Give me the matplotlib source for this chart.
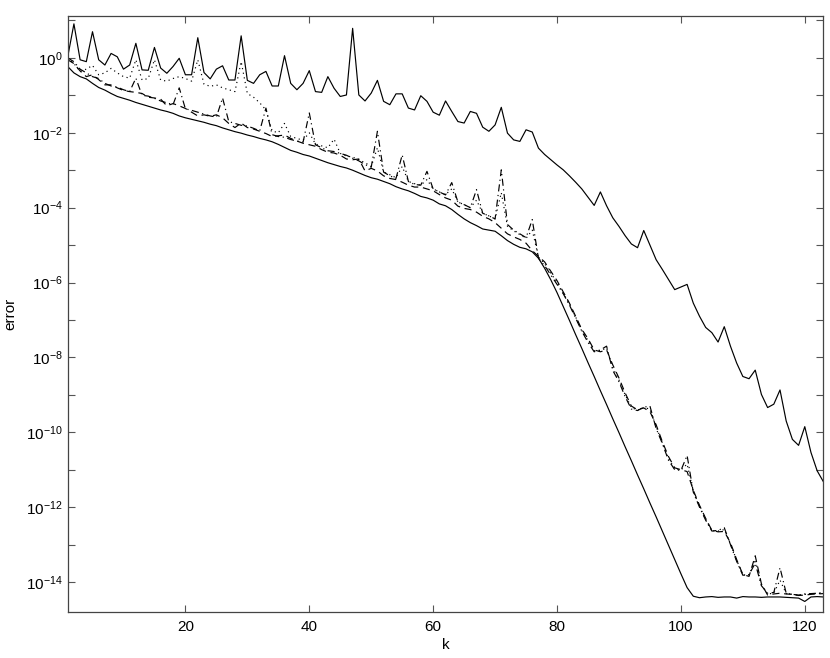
import numpy as np
import matplotlib
matplotlib.use('Agg')
import matplotlib.pyplot as plt
from matplotlib.ticker import FixedLocator, FuncFormatter

plt.rcParams['font.family'] = ['Liberation Sans', 'DejaVu Sans']
plt.rcParams['mathtext.fontset'] = 'custom'
plt.rcParams['mathtext.rm'] = 'Liberation Sans'
plt.rcParams['mathtext.it'] = 'Liberation Sans'

k = np.arange(1, 124)

# error values, stored as log10(error)
top_solid = [0.03, 0.91, -0.05, -0.10, 0.70, -0.05, -0.19, 0.12, 0.03, -0.30,
             -0.19, 0.39, -0.32, -0.33, 0.28, -0.27, -0.41, -0.23, -0.01, -0.45,
             -0.45, 0.54, -0.39, -0.56, -0.30, -0.21, -0.59, -0.59, 0.59, -0.60,
             -0.68, -0.45, -0.36, -0.75, -0.75, 0.06, -0.68, -0.85, -0.68, -0.34,
             -0.90, -0.92, -0.50, -0.81, -1.03, -0.99, 0.79, -0.99, -1.15, -0.94,
             -0.60, -1.16, -1.25, -0.96, -0.96, -1.34, -1.39, -1.01, -1.16, -1.45,
             -1.53, -1.15, -1.43, -1.70, -1.74, -1.43, -1.48, -1.85, -1.96, -1.79,
             -1.32, -2.01, -2.19, -2.23, -1.92, -1.98, -2.41, -2.58, -2.72, -2.86,
             -2.99, -3.15, -3.32, -3.50, -3.72, -3.94, -3.58, -3.95, -4.27, -4.50,
             -4.75, -4.97, -5.07, -4.61, -5.00, -5.39, -5.65, -5.92, -6.19, -6.12,
             -6.05, -6.55, -6.90, -7.20, -7.34, -7.59, -7.18, -7.70, -8.15, -8.51,
             -8.57, -8.34, -8.99, -9.34, -9.25, -8.87, -9.70, -10.19, -10.35, -9.85,
             -10.54, -11.03, -11.32]

low_solid = [-0.23, -0.40, -0.50, -0.56, -0.68, -0.79, -0.86, -0.95, -1.03, -1.08,
             -1.13, -1.19, -1.24, -1.29, -1.34, -1.39, -1.43, -1.48, -1.55, -1.60,
             -1.64, -1.68, -1.72, -1.77, -1.81, -1.87, -1.92, -1.97, -2.01, -2.06,
             -2.10, -2.15, -2.19, -2.24, -2.31, -2.39, -2.47, -2.52, -2.58, -2.62,
             -2.68, -2.74, -2.80, -2.85, -2.90, -2.94, -3.00, -3.07, -3.14, -3.20,
             -3.24, -3.30, -3.36, -3.44, -3.50, -3.55, -3.62, -3.70, -3.74, -3.80,
             -3.90, -3.95, -4.05, -4.18, -4.30, -4.40, -4.48, -4.57, -4.60, -4.63,
             -4.75, -4.88, -4.98, -5.06, -5.10, -5.18, -5.35, -5.62, -5.93, -6.27,
             -6.64, -7.01, -7.39, -7.76, -8.14, -8.51, -8.89, -9.26, -9.64, -10.01,
             -10.39, -10.76, -11.14, -11.51, -11.89, -12.26, -12.64, -13.02, -13.40, -13.78,
             -14.15, -14.38, -14.42, -14.40, -14.39, -14.41, -14.40, -14.40, -14.43, -14.39,
             -14.40, -14.40, -14.41, -14.40, -14.40, -14.40, -14.41, -14.42, -14.43, -14.52,
             -14.40, -14.39, -14.40]

dashed = [-0.05, -0.15, -0.35, -0.50, -0.45, -0.58, -0.72, -0.72, -0.80, -0.87,
          -0.90, -0.92, -0.95, -1.05, -1.07, -1.10, -1.28, -1.22, -1.28, -1.35,
          -1.45, -1.55, -1.52, -1.56, -1.52, -1.60, -1.75, -1.86, -1.74, -1.86,
          -1.90, -1.96, -2.02, -2.10, -2.08, -2.06, -2.15, -2.22, -2.28, -2.32,
          -2.36, -2.45, -2.52, -2.54, -2.60, -2.70, -2.72, -2.70, -3.02, -2.95,
          -3.02, -3.15, -3.22, -3.25, -3.32, -3.40, -3.45, -3.45, -3.50, -3.55,
          -3.65, -3.74, -3.80, -3.96, -4.02, -4.05, -4.12, -4.23, -4.30, -4.40,
          -4.55, -4.70, -4.78, -4.85, -4.95, -5.15, -5.30, -5.45, -5.70, -5.95,
          -6.25, -6.55, -6.90, -7.25, -7.50, -7.80, -7.85, -7.80, -8.20, -8.55,
          -8.95, -9.30, -9.40, -9.35, -9.45, -9.80, -10.25, -10.65, -10.95, -11.00,
          -11.05, -11.55, -11.95, -12.30, -12.62, -12.66, -12.65, -12.95, -13.40, -13.80,
          -13.85, -13.30, -14.05, -14.35, -14.32, -14.30, -14.32, -14.33, -14.36, -14.35,
          -14.33, -14.32, -14.31]

dashdot = [0.00, -0.10, -0.30, -0.40, -0.50, -0.55, -0.68, -0.75, -0.78, -0.85,
           -0.90, -0.54, -1.00, -1.02, -1.08, -1.15, -1.20, -1.25, -0.80, -1.36,
           -1.40, -1.45, -1.50, -1.55, -1.58, -1.07, -1.70, -1.75, -1.80, -1.82,
           -1.88, -1.95, -1.34, -2.05, -2.10, -2.12, -2.18, -2.22, -2.25, -1.47,
           -2.32, -2.40, -2.48, -2.50, -2.55, -2.60, -2.68, -2.75, -2.85, -2.92,
           -1.96, -3.05, -3.15, -3.22, -2.59, -3.30, -3.38, -3.40, -3.03, -3.50,
           -3.58, -3.66, -3.33, -3.85, -3.92, -4.00, -3.52, -4.15, -4.22, -4.30,
           -2.99, -4.45, -4.60, -4.70, -4.80, -4.32, -5.35, -5.55, -5.80, -6.05,
           -6.30, -6.60, -6.95, -7.30, -7.60, -7.85, -7.80, -7.70, -8.35, -8.65,
           -9.05, -9.38, -9.42, -9.33, -9.30, -9.90, -10.30, -10.75, -11.00, -11.02,
           -10.62, -11.60, -12.00, -12.35, -12.64, -12.62, -12.55, -13.00, -13.45, -13.82,
           -13.80, -13.50, -14.10, -14.30, -14.28, -13.62, -14.30, -14.33, -14.35, -14.32,
           -14.31, -14.30, -14.28]

dotted = [0.00, -0.15, -0.36, -0.30, -0.20, -0.45, -0.40, -0.28, -0.40, -0.50,
          -0.54, -0.05, -0.59, -0.55, -0.05, -0.59, -0.62, -0.55, -0.50, -0.55,
          -0.62, -0.05, -0.70, -0.76, -0.72, -0.80, -0.85, -0.90, -0.10, -0.95,
          -1.05, -1.20, -1.39, -1.95, -2.00, -1.75, -2.10, -2.15, -2.20, -2.00,
          -2.30, -2.35, -2.40, -2.17, -2.55, -2.62, -2.65, -2.72, -2.80, -2.90,
          -2.40, -3.05, -3.12, -3.20, -2.90, -3.30, -3.36, -3.40, -3.25, -3.50,
          -3.58, -3.65, -3.50, -3.85, -3.92, -4.00, -3.80, -4.15, -4.22, -4.30,
          -3.60, -4.50, -4.62, -4.72, -4.82, -4.60, -5.32, -5.50, -5.75, -6.00,
          -6.28, -6.58, -6.92, -7.28, -7.55, -7.82, -7.82, -7.75, -8.28, -8.60,
          -9.00, -9.34, -9.41, -9.34, -9.38, -9.85, -10.28, -10.70, -10.98, -11.01,
          -10.85, -11.58, -11.98, -12.32, -12.63, -12.64, -12.60, -12.98, -13.42, -13.81,
          -13.82, -13.40, -14.08, -14.32, -14.30, -13.95, -14.31, -14.33, -14.35, -14.33,
          -14.32, -14.31, -14.30]

fig = plt.figure(figsize=(8.3, 6.58), dpi=100)
ax = fig.add_axes([0.0816, 0.070, 0.9104, 0.9057])

lw = 0.85
ax.semilogy(k, 10.0 ** np.array(top_solid), '-', color='k', lw=lw)
ax.semilogy(k, 10.0 ** np.array(dotted), color='k', lw=lw, ls=(0, (1, 3)))
ax.semilogy(k, 10.0 ** np.array(dashdot), color='k', lw=lw, ls=(0, (6, 3, 1, 3)))
ax.semilogy(k, 10.0 ** np.array(dashed), color='k', lw=lw, ls=(0, (6, 4)))
ax.semilogy(k, 10.0 ** np.array(low_solid), '-', color='k', lw=lw)

ax.set_xlim(1, 123)
ax.set_ylim(10 ** -14.8, 10 ** 1.12)

ax.xaxis.set_major_locator(FixedLocator([20, 40, 60, 80, 100, 120]))
ax.yaxis.set_major_locator(FixedLocator([10.0 ** e for e in range(-14, 2)]))
ax.yaxis.set_minor_locator(FixedLocator([]))


def exp_label(v, pos):
    e = int(round(np.log10(v)))
    if e % 2:
        return ''
    return r'$10^{%d}$' % e


ax.yaxis.set_major_formatter(FuncFormatter(exp_label))
ax.tick_params(which='both', direction='in', length=5, width=0.8,
               color='#555555', top=True, right=True, labelsize=11)
ax.tick_params(axis='x', pad=6)
for s in ax.spines.values():
    s.set_linewidth(0.9)
    s.set_color('#444444')

ax.set_xlabel('k', fontsize=11, labelpad=3)
ax.set_ylabel('error', fontsize=11, labelpad=6)

fig.savefig('out.png', dpi=100)
